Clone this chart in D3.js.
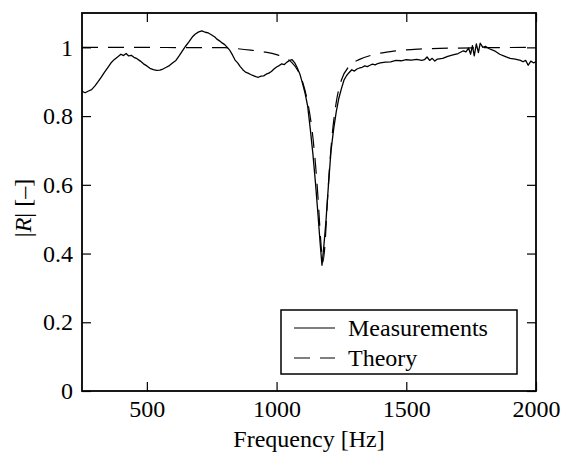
<!DOCTYPE html>
<html>
<head>
    <meta charset="utf-8">
    <title>|R| vs frequency</title>
    <script src="https://cdn.jsdelivr.net/npm/d3@7/dist/d3.min.js"></script>
    <style type="text/css">
        body { margin: 0; background: #fff; }
    </style>
</head>
<body>
    <svg id="chart"></svg>
    <script type="text/javascript">
        var measFreq = [250,262,275,287,300,312,325,337,350,362,375,387,400,410,420,430,440,450,462,475,
            487,500,512,525,537,550,562,575,587,600,612,625,637,650,662,675,687,700,712,725,
            737,750,762,770,780,790,800,810,820,830,840,850,860,870,880,890,900,910,920,930,
            940,950,960,970,980,990,1000,1010,1020,1030,1040,1050,1060,1070,1080,1090,1100,1110,1120,1130,
            1140,1150,1160,1168,1175,1182,1190,1200,1210,1220,1230,1240,1250,1260,1270,1280,1290,1300,1310,1320,
            1330,1340,1350,1360,1370,1380,1390,1400,1420,1440,1460,1480,1500,1520,1540,1560,1570,1580,1590,1600,
            1610,1620,1640,1660,1680,1700,1720,1730,1740,1748,1755,1762,1770,1778,1785,1795,1805,1820,1840,1860,
            1880,1900,1920,1940,1950,1960,1970,1980,1990,2000];
        var measValue = [0.872,0.868,0.873,0.877,0.888,0.900,0.914,0.928,0.942,0.955,0.965,0.972,0.980,0.976,0.982,0.975,0.977,0.971,0.967,0.960,
            0.952,0.946,0.939,0.935,0.933,0.934,0.937,0.942,0.947,0.955,0.962,0.976,0.990,1.004,1.016,1.030,1.039,1.045,1.048,1.044,
            1.042,1.036,1.030,1.024,1.019,1.013,1.008,1.000,0.991,0.978,0.963,0.955,0.944,0.935,0.928,0.925,0.921,0.918,0.915,0.913,
            0.916,0.917,0.922,0.925,0.930,0.937,0.943,0.947,0.952,0.950,0.957,0.962,0.964,0.955,0.940,0.922,0.895,0.866,0.828,0.762,
            0.690,0.605,0.510,0.430,0.366,0.420,0.490,0.600,0.700,0.762,0.812,0.852,0.880,0.905,0.918,0.927,0.935,0.931,0.937,0.940,
            0.942,0.946,0.944,0.948,0.951,0.949,0.953,0.955,0.957,0.958,0.962,0.961,0.964,0.963,0.965,0.962,0.964,0.972,0.962,0.968,
            0.960,0.966,0.968,0.974,0.978,0.982,0.990,0.987,0.998,0.980,1.005,0.975,1.010,0.985,1.012,1.000,1.003,0.996,0.990,0.980,
            0.974,0.968,0.966,0.962,0.958,0.962,0.948,0.960,0.955,0.958];

        // theoretical |R|
        var theoFreq = [250,800,850,900,950,1000,1030,1060,1080,1100,1120,1135,1150,1160,1170,1178,1186,1195,1205,1215,
            1230,1250,1280,1320,1370,1450,1550,1700,2000];
        var theoValue = [1.0,0.999,0.996,0.992,0.987,0.979,0.970,0.955,0.935,0.900,0.840,0.770,0.660,0.560,0.440,0.375,0.420,0.540,0.660,0.750,
            0.840,0.905,0.945,0.965,0.978,0.989,0.995,0.998,1.0];

        var xTicks = [500, 1000, 1500, 2000];
        var yTicks = [0, 0.2, 0.4, 0.6, 0.8, 1];
        var legendLabels = ["Measurements", "Theory"];

        var width = 562, height = 457;
        var margin = {left: 82, right: 26, top: 13, bottom: 66};
        var fontStyle = "font-family: 'Times New Roman', 'Liberation Serif', serif; font-size: 24px;";

        var svg = d3.select("#chart")
            .attr("width", width)
            .attr("height", height);

        var x = d3.scaleLinear().domain([250, 2000]).range([margin.left, width - margin.right]);
        var y = d3.scaleLinear().domain([0, 1.1]).range([height - margin.bottom, margin.top]);

        var meas = measFreq.map((f, i) => [f, measValue[i]]);
        var theo = theoFreq.map((f, i) => [f, theoValue[i]]);

        svg.append("clipPath").attr("id", "plotclip")
            .append("rect")
            .attr("x", x(250)).attr("y", y(1.1))
            .attr("width", x(2000) - x(250)).attr("height", y(0) - y(1.1));

        var line = d3.line().x(d => x(d[0])).y(d => y(d[1]));
        var smooth = d3.line().x(d => x(d[0])).y(d => y(d[1])).curve(d3.curveMonotoneX);

        var plot = svg.append("g").attr("clip-path", "url(#plotclip)");

        plot.append("path")
            .datum(theo)
            .attr("d", smooth)
            .attr("fill", "none")
            .attr("stroke", "#000")
            .attr("stroke-width", 1.2)
            .attr("stroke-dasharray", "16,10");

        plot.append("path")
            .datum(meas)
            .attr("d", line)
            .attr("fill", "none")
            .attr("stroke", "#000")
            .attr("stroke-width", 1.3)
            .attr("stroke-linejoin", "round");

        // axes box with ticks pointing inward
        var tickLen = 9;

        var xAxis = svg.append("g")
            .attr("transform", `translate(0,${y(0)})`)
            .call(d3.axisBottom(x).tickValues(xTicks).tickSizeInner(-tickLen).tickSizeOuter(0).tickPadding(9)
                .tickFormat(d3.format("d")));
        var xAxisTop = svg.append("g")
            .attr("transform", `translate(0,${y(1.1)})`)
            .call(d3.axisTop(x).tickValues(xTicks).tickSizeInner(-tickLen).tickSizeOuter(0).tickFormat(""));
        var yAxis = svg.append("g")
            .attr("transform", `translate(${x(250)},0)`)
            .call(d3.axisLeft(y).tickValues(yTicks).tickSizeInner(-tickLen).tickSizeOuter(0).tickPadding(9)
                .tickFormat(d => String(d)));
        var yAxisRight = svg.append("g")
            .attr("transform", `translate(${x(2000)},0)`)
            .call(d3.axisRight(y).tickValues(yTicks).tickSizeInner(-tickLen).tickSizeOuter(0).tickFormat(""));

        [xAxis, xAxisTop, yAxis, yAxisRight].forEach(function(g) {
            g.selectAll(".domain").remove();
            g.selectAll(".tick line").attr("stroke", "#000").attr("stroke-width", 1.2);
            g.selectAll(".tick text").attr("fill", "#000").attr("style", fontStyle);
        });

        svg.append("rect")
            .attr("x", x(250)).attr("y", y(1.1))
            .attr("width", x(2000) - x(250)).attr("height", y(0) - y(1.1))
            .attr("fill", "none")
            .attr("stroke", "#000")
            .attr("stroke-width", 1.8);

        // axis labels
        svg.append("text")
            .attr("style", fontStyle)
            .attr("x", (x(250) + x(2000)) / 2)
            .attr("y", 447)
            .attr("text-anchor", "middle")
            .text("Frequency [Hz]");

        var ylab = svg.append("text")
            .attr("style", fontStyle)
            .attr("transform", `translate(31,${(y(0) + y(1.1)) / 2 + 6}) rotate(-90)`)
            .attr("text-anchor", "middle");
        ylab.append("tspan").text("|");
        ylab.append("tspan").attr("font-style", "italic").text("R");
        ylab.append("tspan").text("| [\u2013]");

        // legend
        var legend = svg.append("g");
        legend.append("rect")
            .attr("x", 281).attr("y", 310)
            .attr("width", 236).attr("height", 64)
            .attr("fill", "#fff")
            .attr("stroke", "#000")
            .attr("stroke-width", 1.5);

        legendLabels.forEach(function(label, i) {
            var ly = 328 + i * 30;
            legend.append("line")
                .attr("x1", 294).attr("x2", 335)
                .attr("y1", ly).attr("y2", ly)
                .attr("stroke", "#000")
                .attr("stroke-width", 1.2)
                .attr("stroke-dasharray", i === 1 ? "16,10" : null);
            legend.append("text")
                .attr("style", fontStyle)
                .attr("x", 348)
                .attr("y", ly + 8)
                .text(label);
        });
    </script>
</body>
</html>
